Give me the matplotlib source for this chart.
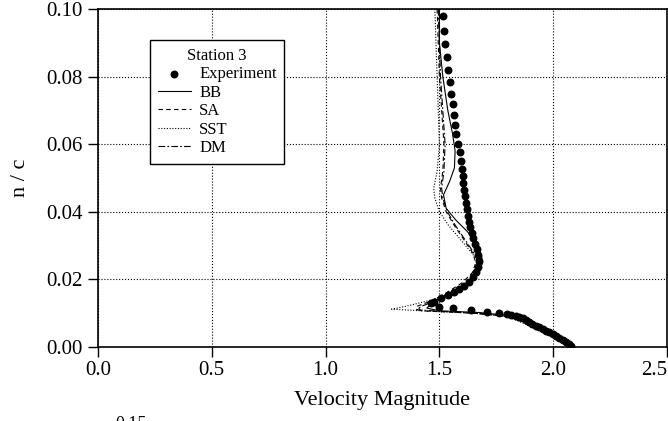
import matplotlib
matplotlib.use("Agg")
import matplotlib.pyplot as plt

# Experiment (velocity, n/c)
exp_v = [1.514, 1.520, 1.526, 1.532, 1.539, 1.545, 1.553, 1.558, 1.564, 1.569,
         1.575, 1.583, 1.589, 1.595, 1.600, 1.602, 1.604, 1.609, 1.613, 1.615,
         1.620, 1.624, 1.629, 1.635, 1.642, 1.649, 1.657, 1.664, 1.670, 1.672,
         1.668, 1.661, 1.649, 1.632, 1.610, 1.588, 1.566, 1.537, 1.507, 1.478,
         1.463, 1.500, 1.559, 1.639, 1.708, 1.760, 1.795, 1.814, 1.836, 1.851,
         1.866, 1.880, 1.895, 1.909, 1.924, 1.939, 1.953, 1.968, 1.983, 1.997,
         2.012, 2.026, 2.041, 2.056, 2.070, 2.078]
exp_n = [0.0979, 0.0936, 0.0896, 0.0857, 0.0820, 0.0785, 0.0749, 0.0718, 0.0686, 0.0657,
         0.0629, 0.0601, 0.0576, 0.0551, 0.0527, 0.0506, 0.0484, 0.0464, 0.0447, 0.0427,
         0.0407, 0.0388, 0.0371, 0.0354, 0.0338, 0.0321, 0.0305, 0.0289, 0.0272, 0.0255,
         0.0238, 0.0223, 0.0208, 0.0193, 0.0180, 0.0171, 0.0164, 0.0154, 0.0144, 0.0134,
         0.0129, 0.0119, 0.0114, 0.0109, 0.0104, 0.0102, 0.0097, 0.0094, 0.0092, 0.0090,
         0.0085, 0.0080, 0.0074, 0.0068, 0.0063, 0.0058, 0.0053, 0.0048, 0.0043, 0.0038,
         0.0032, 0.0026, 0.0020, 0.0014, 0.0008, 0.0004]

bb_n = [0.100, 0.090, 0.080, 0.070, 0.063, 0.058, 0.053, 0.049, 0.045, 0.041,
        0.0375, 0.034, 0.030, 0.027, 0.025, 0.022, 0.019, 0.0165, 0.014, 0.0115,
        0.0107, 0.0102, 0.0092, 0.007, 0.0045, 0.002, 0.0]
bb_v = [1.50, 1.50, 1.515, 1.537, 1.558, 1.569, 1.566, 1.545, 1.518, 1.530,
        1.573, 1.625, 1.665, 1.685, 1.690, 1.675, 1.632, 1.560, 1.485, 1.445,
        1.50, 1.675, 1.822, 1.895, 1.968, 2.04, 2.08]

sa_n = [0.100, 0.090, 0.080, 0.070, 0.060, 0.052, 0.047, 0.044, 0.040, 0.036,
        0.032, 0.028, 0.025, 0.022, 0.019, 0.016, 0.0135, 0.012, 0.0107, 0.0100,
        0.009, 0.007, 0.0045, 0.002, 0.0]
sa_v = [1.49, 1.495, 1.50, 1.51, 1.52, 1.515, 1.505, 1.51, 1.53, 1.565,
        1.605, 1.645, 1.66, 1.645, 1.60, 1.53, 1.46, 1.40, 1.42, 1.65,
        1.81, 1.88, 1.96, 2.03, 2.075]

sst_n = [0.100, 0.090, 0.080, 0.070, 0.060, 0.052, 0.047, 0.044, 0.040, 0.036,
         0.032, 0.028, 0.025, 0.023, 0.020, 0.017, 0.014, 0.012, 0.0112, 0.0106,
         0.0100, 0.009, 0.007, 0.0045, 0.002, 0.0]
sst_v = [1.48, 1.485, 1.49, 1.495, 1.50, 1.49, 1.475, 1.48, 1.50, 1.54,
         1.59, 1.64, 1.675, 1.68, 1.65, 1.58, 1.47, 1.35, 1.29, 1.45,
         1.65, 1.80, 1.87, 1.95, 2.02, 2.07]

dm_n = [0.100, 0.090, 0.080, 0.070, 0.060, 0.052, 0.047, 0.044, 0.040, 0.036,
        0.032, 0.028, 0.025, 0.022, 0.019, 0.016, 0.0135, 0.012, 0.011, 0.0104,
        0.0098, 0.009, 0.007, 0.0045, 0.002, 0.0]
dm_v = [1.495, 1.50, 1.505, 1.515, 1.525, 1.52, 1.51, 1.515, 1.535, 1.57,
        1.61, 1.65, 1.675, 1.665, 1.62, 1.55, 1.475, 1.42, 1.40, 1.55,
        1.70, 1.81, 1.885, 1.965, 2.035, 2.08]

x_ticks = [0.0, 0.5, 1.0, 1.5, 2.0, 2.5]
y_ticks = [0.0, 0.02, 0.04, 0.06, 0.08, 0.10]

plt.rcParams['font.family'] = ['Liberation Serif', 'DejaVu Serif']

fig = plt.figure(figsize=(6.68, 4.21), dpi=100)
ax = fig.add_axes([0.1467, 0.1758, 0.8518, 0.8028])

ax.scatter(exp_v, exp_n, s=22, color='black', zorder=3, label='Experiment')
ax.plot(bb_v, bb_n, color='black', lw=0.8, ls='-', label='BB')
ax.plot(sa_v, sa_n, color='black', lw=0.8, ls=(0, (4, 3)), label='SA')
ax.plot(sst_v, sst_n, color='black', lw=0.8, ls=(0, (1, 1.5)), label='SST')
ax.plot(dm_v, dm_n, color='black', lw=0.8, ls=(0, (6, 2, 1.5, 2)), label='DM')

ax.set_xlim(0, 2.5)
ax.set_ylim(0, 0.1)
ax.set_xticks(x_ticks)
ax.set_yticks(y_ticks)
ax.set_xticklabels(['%.1f' % t for t in x_ticks])
ax.set_yticklabels(['%.2f' % t for t in y_ticks])
ax.tick_params(direction='out', length=7, width=1, labelsize=15)
ax.tick_params(axis='y', pad=4)
ax.tick_params(axis='x', pad=3)
# last label sits flush with the figure edge
ax.get_xticklabels()[-1].set_horizontalalignment('right')
ax.grid(True, ls=':', color='black', lw=0.8)
for s in ax.spines.values():
    s.set_linewidth(1.2)

ax.set_xlabel('Velocity Magnitude', fontsize=16, labelpad=8)
ax.set_ylabel('n / c', fontsize=16, labelpad=12)

leg = ax.legend(loc='upper left', bbox_to_anchor=(0.0914, 0.908), borderaxespad=0,
                fontsize=12, title='Station 3', title_fontsize=12, fancybox=False,
                edgecolor='black', framealpha=1, labelspacing=0.15, handlelength=2.0,
                handletextpad=0.5, borderpad=0.45, scatterpoints=1)
leg.get_frame().set_linewidth(1.0)

fig.text(0.196, 0.012, '0.15', fontsize=13, ha='center', va='top')

fig.savefig('out.png', dpi=100)
